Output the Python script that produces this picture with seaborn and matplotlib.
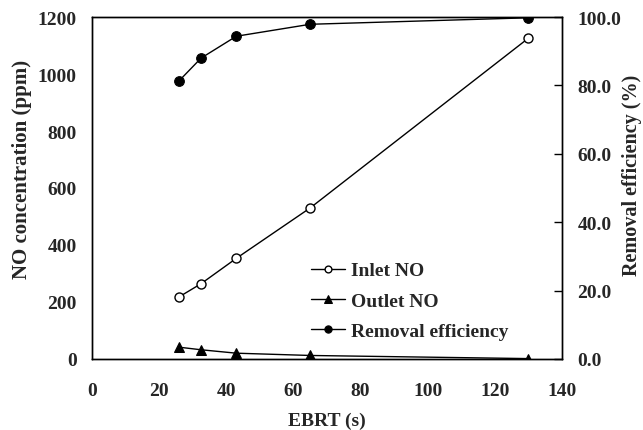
import matplotlib
matplotlib.use("Agg")
import matplotlib.pyplot as plt
import seaborn as sns
import pandas as pd

ebrt = [26, 32.5, 43, 65, 130]
inlet_no = [218, 264, 353, 530, 1126]
outlet_no = [41, 32, 20, 12, 1]
removal_eff = [81.4, 88.0, 94.4, 97.9, 99.8]

sns.set_theme(style="white")
plt.rcParams['font.family'] = ['Liberation Serif', 'DejaVu Serif']
plt.rcParams['font.weight'] = 'bold'

df = pd.DataFrame({"EBRT": ebrt, "Inlet": inlet_no, "Outlet": outlet_no, "Removal": removal_eff})

fig = plt.figure(figsize=(6.43, 4.31), dpi=100)
ax = fig.add_axes([0.143, 0.165, 0.731, 0.793])
ax2 = ax.twinx()

lw = 1.0
sns.lineplot(data=df, x="EBRT", y="Inlet", ax=ax, color="black", lw=lw, marker="o",
             markersize=6.5, markerfacecolor="white", markeredgecolor="black", markeredgewidth=1.0,
             label="Inlet NO", legend=False)
sns.lineplot(data=df, x="EBRT", y="Outlet", ax=ax, color="black", lw=lw, marker="^",
             markersize=7, markerfacecolor="black", markeredgecolor="black",
             label="Outlet NO", legend=False)
sns.lineplot(data=df, x="EBRT", y="Removal", ax=ax2, color="black", lw=lw, marker="o",
             markersize=7, markerfacecolor="black", markeredgecolor="black",
             label="Removal efficiency", legend=False)

ax.set_xlim(0, 140)
ax.set_ylim(0, 1200)
ax2.set_ylim(0, 100)
ax.set_xticks(range(0, 141, 20))
ax.set_yticks(range(0, 1201, 200))
ax2.set_yticks(range(0, 101, 20))
ax2.set_yticklabels([f"{v:.1f}" for v in range(0, 101, 20)])

for a in (ax, ax2):
    for s in a.spines.values():
        s.set_color("black")
        s.set_linewidth(1.0)

ax.tick_params(axis="x", direction="in", length=5, width=1, color="black", labelsize=14, pad=17)
ax.tick_params(axis="y", length=0, labelsize=14, pad=11)
ax2.tick_params(axis="y", direction="in", length=6, width=1, color="black", labelsize=14, pad=11)

ax.set_xlabel("EBRT (s)", fontsize=14, fontweight="bold", labelpad=9)
ax.set_ylabel("NO concentration (ppm)", fontsize=15, fontweight="bold")
ax2.set_ylabel("Removal efficiency (%)", fontsize=14.5, fontweight="bold")
ax.yaxis.set_label_coords(-0.128, 0.558)
ax2.yaxis.set_label_coords(1.127, 0.541)

h1, l1 = ax.get_legend_handles_labels()
h2, l2 = ax2.get_legend_handles_labels()
leg = ax.legend(h1 + h2, l1 + l2, loc="center left", bbox_to_anchor=(0.466, 0.17),
                frameon=False, fontsize=14, handlelength=1.75, handletextpad=0.3,
                labelspacing=0.65, markerscale=0.75, borderpad=0, borderaxespad=0)
for t in leg.get_texts():
    t.set_fontweight("bold")

fig.savefig("out.png", dpi=100)
